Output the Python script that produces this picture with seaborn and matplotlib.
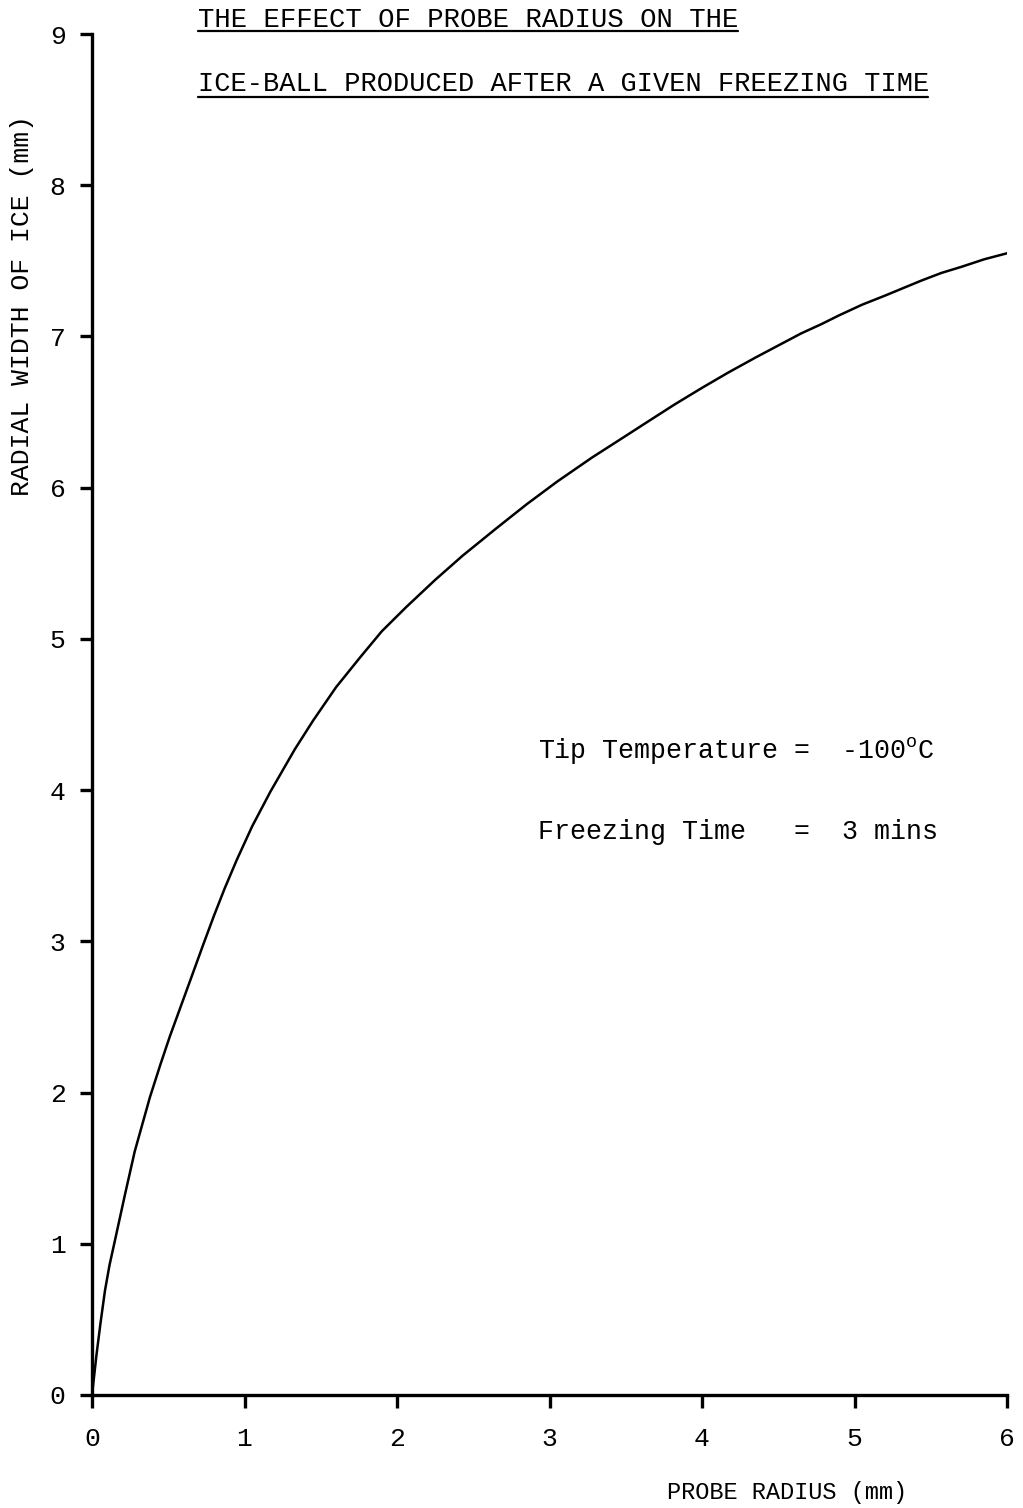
import matplotlib
matplotlib.use("Agg")
import matplotlib.pyplot as plt
import seaborn as sns
import pandas as pd

# Probe radius (mm) and radial width of ice (mm)
probe_radius = [0.0, 0.01, 0.03, 0.055, 0.085, 0.115, 0.15, 0.215, 0.28, 0.38,
                0.45, 0.51, 0.64, 0.73, 0.80, 0.87, 0.95, 1.05, 1.17, 1.33,
                1.45, 1.60, 1.76, 1.90, 2.06, 2.25, 2.43, 2.65, 2.85, 3.05,
                3.28, 3.45, 3.65, 3.82, 4.00, 4.17, 4.35, 4.50, 4.65, 4.78,
                4.90, 5.05, 5.20, 5.32, 5.44, 5.57, 5.70, 5.85, 6.00]
ice_width = [0.0, 0.09, 0.27, 0.47, 0.69, 0.86, 1.02, 1.32, 1.61, 1.97,
             2.19, 2.37, 2.73, 2.98, 3.17, 3.35, 3.54, 3.76, 3.99, 4.27,
             4.46, 4.68, 4.88, 5.05, 5.21, 5.39, 5.55, 5.73, 5.89, 6.04,
             6.20, 6.31, 6.44, 6.55, 6.66, 6.76, 6.86, 6.94, 7.02, 7.08,
             7.14, 7.21, 7.27, 7.32, 7.37, 7.42, 7.46, 7.51, 7.55]

x_ticks = [0, 1, 2, 3, 4, 5, 6]
y_ticks = [0, 1, 2, 3, 4, 5, 6, 7, 8, 9]

title_lines = ["THE EFFECT OF PROBE RADIUS ON THE",
               "ICE-BALL PRODUCED AFTER A GIVEN FREEZING TIME"]
x_label = "PROBE RADIUS (mm)"
y_label = "RADIAL WIDTH OF ICE (mm)"
conditions = [r"Tip Temperature =  -100$^{\mathrm{o}}$C",
              "Freezing Time   =  3 mins"]

W, H = 1023, 1508

sns.set_theme(style="white")
mono = ["Liberation Mono", "DejaVu Sans Mono"]
plt.rcParams["font.family"] = mono
plt.rcParams["mathtext.fontset"] = "custom"
plt.rcParams["mathtext.rm"] = "Liberation Mono"

df = pd.DataFrame({"radius": probe_radius, "width": ice_width})

fig = plt.figure(figsize=(W / 100, H / 100), dpi=100)
ax = fig.add_axes([92 / W, 1 - 1395 / H, (1007 - 92) / W, (1395 - 34) / H])

sns.lineplot(data=df, x="radius", y="width", ax=ax, color="black",
             linewidth=1.8, estimator=None, sort=False)

ax.set_xlim(0, 6)
ax.set_ylim(0, 9)
ax.set_xticks(x_ticks)
ax.set_yticks(y_ticks)
ax.set_xticklabels([str(t) for t in x_ticks], fontsize=19)
ax.set_yticklabels([str(t) for t in y_ticks], fontsize=19)
ax.set_xlabel("")
ax.set_ylabel("")

for side in ["top", "right"]:
    ax.spines[side].set_visible(False)
for side in ["left", "bottom"]:
    ax.spines[side].set_linewidth(2.4)
    ax.spines[side].set_color("black")
ax.tick_params(axis="both", which="major", bottom=True, left=True,
               direction="out", length=9, width=2.4, colors="black")
ax.tick_params(axis="x", pad=14)
ax.tick_params(axis="y", pad=10)
ax.set_facecolor("white")

renderer = fig.canvas.get_renderer()


def fit_text(x_px, y_px, s, width_px, size=18, **kw):
    """Place figure text whose left edge is at x_px and that spans width_px."""
    t = fig.text(x_px / W, 1 - y_px / H, s, fontsize=size, ha="left",
                 va="center", color="black", **kw)
    w = t.get_window_extent(renderer).width
    t.set_fontsize(size * width_px / w)
    return t


# Title lines, underlined
title_rows = [(20, 31, 738), (84, 97, 928)]
for line, (ty, uy, right) in zip(title_lines, title_rows):
    fit_text(198, ty, line, right - 198)
    fig.add_artist(plt.Line2D([198 / W, right / W], [1 - uy / H, 1 - uy / H],
                              transform=fig.transFigure, color="black",
                              linewidth=1.6))

# Axis labels
fit_text(667, 1492, x_label, 908 - 667)
t = fig.text(22 / W, 1 - 305 / H, y_label, fontsize=15, rotation=90,
             ha="center", va="center", color="black")
h = t.get_window_extent(renderer).height
t.set_fontsize(15 * (495 - 115) / h)

# Experimental conditions
t2 = fit_text(538, 832, conditions[1], 938 - 538)
fig.text(538 / W, 1 - 750 / H, conditions[0], fontsize=t2.get_fontsize(),
         ha="left", va="center", color="black")

fig.savefig("out.png", dpi=100, facecolor="white")
